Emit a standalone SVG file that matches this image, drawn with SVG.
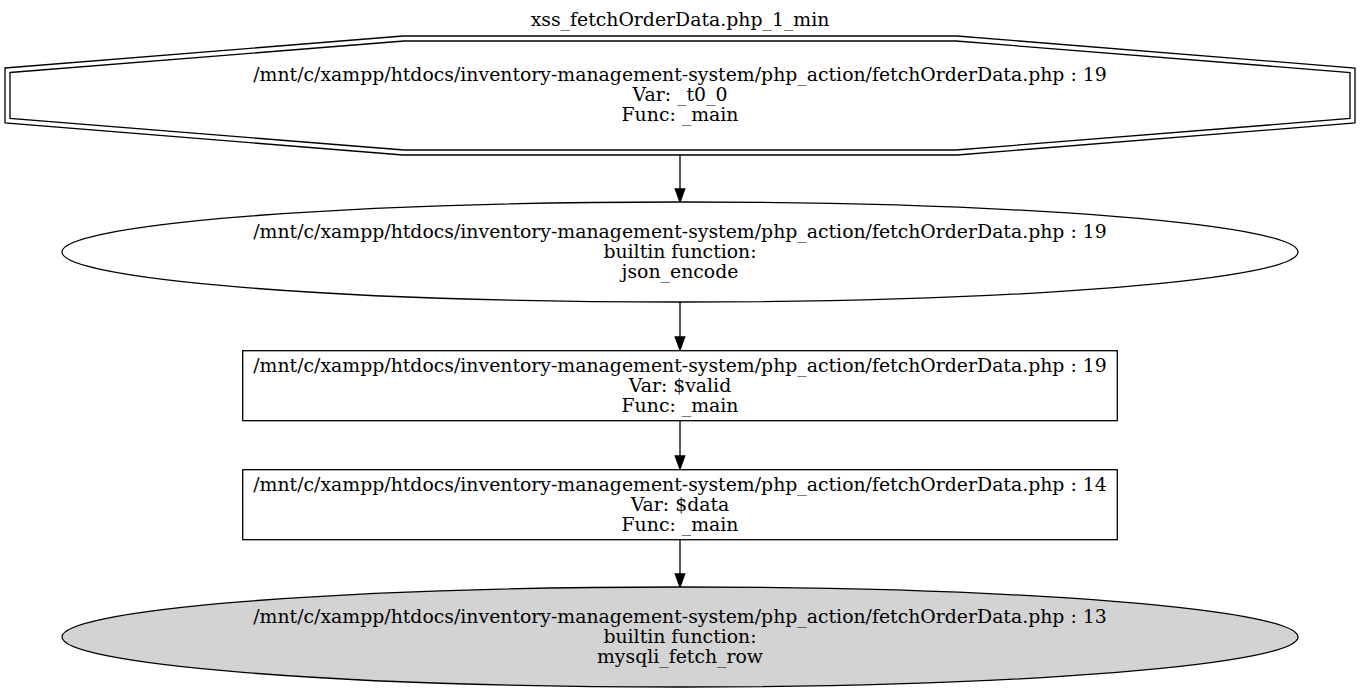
<svg xmlns="http://www.w3.org/2000/svg" width="1360" height="693" viewBox="0 0 1360 693">
<defs>
<style>
text{font-family:"DejaVu Serif","Liberation Serif",serif;font-size:18.85px;text-anchor:middle;fill:#000}
.s{fill:none;stroke:#000;stroke-width:1.3}
.n{fill:#fff;stroke:#000;stroke-width:1.3}
.g{fill:#d3d3d3;stroke:#000;stroke-width:1.3}
.e{fill:none;stroke:#000;stroke-width:1.3}
.h{fill:#000;stroke:#000;stroke-width:1.3}
</style>
</defs>
<rect width="1360" height="693" fill="#fff"/>
<text x="680" y="25.5">xss_fetchOrderData.php_1_min</text>
<g id="edges">
<path class="e" d="M680,155 V191"/>
<polygon class="h" points="675.3,189 680,202 684.7,189"/>
<path class="e" d="M680,302 V339"/>
<polygon class="h" points="675.3,337 680,350 684.7,337"/>
<path class="e" d="M680,421 V458"/>
<polygon class="h" points="675.3,456 680,469 684.7,456"/>
<path class="e" d="M680,540 V576"/>
<polygon class="h" points="675.3,574 680,587 684.7,574"/>
</g>
<g id="n1">
<polygon class="n" points="5,68 403,36 957,36 1355,68 1355,123 957,155 403,155 5,123"/>
<polygon class="s" points="10,72.5 404,41 956,41 1350,72.5 1350,118.5 956,150 404,150 10,118.5"/>
<text x="680" y="80.5">/mnt/c/xampp/htdocs/inventory-management-system/php_action/fetchOrderData.php : 19</text>
<text x="680" y="100.5">Var: _t0_0</text>
<text x="680" y="120.5">Func: _main</text>
</g>
<g id="n2">
<ellipse class="n" cx="680" cy="252" rx="618" ry="50"/>
<text x="680" y="237.5">/mnt/c/xampp/htdocs/inventory-management-system/php_action/fetchOrderData.php : 19</text>
<text x="680" y="257.5">builtin function:</text>
<text x="680" y="277.5">json_encode</text>
</g>
<g id="n3">
<rect class="n" x="242.7" y="350.7" width="874.6" height="70"/>
<text x="680" y="371.5">/mnt/c/xampp/htdocs/inventory-management-system/php_action/fetchOrderData.php : 19</text>
<text x="680" y="391.5">Var: $valid</text>
<text x="680" y="411.5">Func: _main</text>
</g>
<g id="n4">
<rect class="n" x="242.7" y="469.7" width="874.6" height="70"/>
<text x="680" y="490.5">/mnt/c/xampp/htdocs/inventory-management-system/php_action/fetchOrderData.php : 14</text>
<text x="680" y="510.5">Var: $data</text>
<text x="680" y="530.5">Func: _main</text>
</g>
<g id="n5">
<ellipse class="g" cx="680" cy="637" rx="618" ry="50"/>
<text x="680" y="622.5">/mnt/c/xampp/htdocs/inventory-management-system/php_action/fetchOrderData.php : 13</text>
<text x="680" y="642.5">builtin function:</text>
<text x="680" y="662.5">mysqli_fetch_row</text>
</g>
</svg>
